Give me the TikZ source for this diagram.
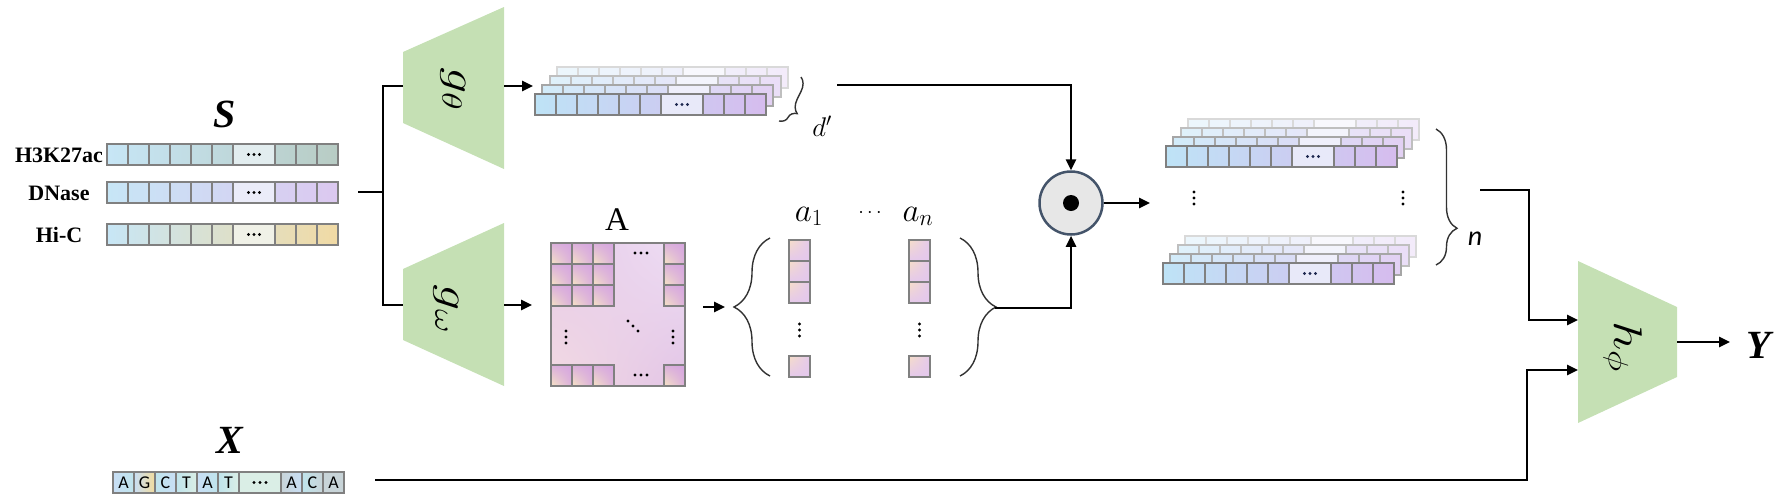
\RequirePackage{fix-cm}
\documentclass[tikz,border=0pt]{standalone}
\usepackage{fontspec}
\setmainfont{Liberation Serif}
\newfontfamily\calibri{Carlito}
\usetikzlibrary{arrows.meta, calc, shadings, decorations.pathreplacing, positioning}
\definecolor{trapgreen}{RGB}{197,224,180}
\definecolor{circborder}{RGB}{68,84,106}
\definecolor{circfill}{RGB}{231,231,231}
\definecolor{cellline}{RGB}{128,128,128}
\definecolor{bracecol}{RGB}{50,50,50}
\definecolor{rowblue}{RGB}{199,230,246}
\definecolor{h3kend}{RGB}{184,204,196}
\definecolor{dnaseend}{RGB}{220,200,240}
\definecolor{hicend}{RGB}{241,218,164}
\definecolor{embA}{RGB}{190,227,246}
\definecolor{embB}{RGB}{214,188,238}
\definecolor{dotnavy}{RGB}{30,40,80}
\definecolor{matpeach}{RGB}{246,228,196}
\definecolor{matpurple}{RGB}{214,166,224}
\definecolor{vecpeach}{RGB}{246,222,200}
\definecolor{veclav}{RGB}{228,200,236}
\definecolor{seqblue}{RGB}{200,222,245}
\definecolor{seqcyan}{RGB}{191,228,236}
\definecolor{seqyellow}{RGB}{242,220,156}
\definecolor{seqgray}{RGB}{200,212,216}
\definecolor{seqpale}{RGB}{218,238,230}
\definecolor{matA}{RGB}{243,219,226}
\definecolor{matB}{RGB}{238,222,244}
\definecolor{matC}{RGB}{230,201,232}
\definecolor{matD}{RGB}{226,196,230}

% one row of cells: x, y, left colour, right colour, fade, dot colour
\newcommand{\cellbar}[6]{%
  \foreach \ca/\cb in {0/21,21/42,42/63,63/84,84/105,105/126,168/189,189/210,210/231} {
    \pgfmathtruncatemacro\pa{100-\ca/2.31}
    \pgfmathtruncatemacro\pb{100-\cb/2.31}
    \draw[draw=cellline!#5!white, line width=1.1pt, left color=#3!\pa!#4!#5!white, right color=#3!\pb!#4!#5!white]
      (#1+\ca,#2) rectangle (#1+\cb,#2+21);
  }
  \draw[draw=cellline!#5!white, line width=1.1pt, fill=#3!45!#4!45!white!#5!white] (#1+126,#2) rectangle (#1+168,#2+21);
  \foreach \k in {-1,0,1} \fill[#6!#5!white] (#1+147+5.5*\k,#2+10.5) circle (1.6);
}
% four stacked embedding rows
\newcommand{\cellstack}[2]{%
  \cellbar{#1+22}{#2-27}{embA}{embB}{30}{dotnavy}
  \cellbar{#1+15}{#2-18}{embA}{embB}{50}{dotnavy}
  \cellbar{#1+7}{#2-9}{embA}{embB}{70}{dotnavy}
  \cellbar{#1}{#2}{embA}{embB}{100}{dotnavy}}
\newcommand{\threedots}[4]{\foreach \k in {-1,0,1} \fill (#1+\k*#3,#2+\k*#4) circle (1.7);}

\begin{document}
\begin{tikzpicture}[x=1pt, y=-1pt,
    >={Triangle[length=11pt, width=10pt]},
    link/.style={line width=2.5pt},
    curly/.style={decorate, decoration={brace, amplitude=#1}, line width=1.4pt, draw=bracecol},
    rowlabel/.style={font=\fontsize{22}{24}\selectfont\bfseries, inner sep=0pt},
    biglabel/.style={font=\fontsize{40}{44}\selectfont\bfseries\itshape, inner sep=0pt, anchor=base},
    netlabel/.style={rotate=-90, font=\fontsize{40}{44}\selectfont, inner sep=0pt},
    mathlabel/.style={font=\fontsize{33}{36}\selectfont, inner sep=0pt, anchor=base},
    acell/.style={draw=cellline, line width=1.1pt, lower left=matpeach, upper right=matpurple,
      upper left=matpurple!85!matpeach, lower right=matpurple!85!matpeach},
    vcell/.style={draw=cellline, line width=1.1pt, upper left=vecpeach, lower right=veclav,
      upper right=veclav, lower left=veclav},
    seqletter/.style={font=\calibri\fontsize{18}{20}\selectfont, inner sep=0pt}]
  \useasboundingbox (0,0) rectangle (1777,499);

  % input tracks
  \node[biglabel] (slabel) at (225,127) {S};
  \node[rowlabel] (h3k) at (59,155) {H3K27ac};
  \node[rowlabel] (dnase) at (59,193) {DNase};
  \node[rowlabel] (hic) at (59,235) {Hi-C};
  \cellbar{107}{144}{rowblue}{h3kend}{100}{black}
  \cellbar{107}{182}{rowblue}{dnaseend}{100}{black}
  \cellbar{107}{224}{rowblue}{hicend}{100}{black}

  % sequence
  \node[biglabel] (xlabel) at (230,453) {X};
  \foreach \ca/\seqch/\cl/\cr in {0/A/seqblue/seqcyan, 21/G/seqblue/seqyellow, 42/C/seqcyan/seqblue,
      63/T/seqcyan/seqpale, 84/A/seqblue/seqcyan, 105/T/seqcyan/seqpale,
      168/A/seqgray/seqblue, 189/C/seqcyan/seqgray, 210/A/seqgray/seqgray} {
    \draw[draw=cellline, line width=1.1pt, left color=\cl, right color=\cr] (113+\ca,472) rectangle ++(21,21);
    \node[seqletter] (seq-\ca) at (113+\ca+10.5,482.5) {\seqch};
  }
  \draw[draw=cellline, line width=1.1pt, fill=seqpale] (239,472) rectangle (281,493);
  \threedots{260}{482.5}{6}{0}

  % encoders and decoder
  \fill[trapgreen] (403,52) -- (504,7) -- (504,169) -- (403,123) -- cycle;
  \node[netlabel] (gtheta) at (453,89) {\scalebox{1.3}[1]{$g_\theta$}};
  \fill[trapgreen] (403,269) -- (504,223) -- (504,386) -- (403,340) -- cycle;
  \node[netlabel] (gomega) at (446,309) {\scalebox{1.3}[1]{$g_\omega$}};
  \fill[trapgreen] (1578,261) -- (1677,307) -- (1677,377) -- (1578,423) -- cycle;
  \node[netlabel] (hphi) at (1623,347) {\scalebox{1.3}[1]{$h_\phi$}};

  % node embeddings
  \cellstack{535}{94}
  \draw[curly=13pt, decoration={aspect=0.7}] (801,77) -- (779,121);
  \node[mathlabel, font=\fontsize{27}{30}\selectfont] (dprime) at (822,136) {$d'$};

  % matrix A
  \node[inner sep=0pt, anchor=base, font=\fontsize{33}{36}\selectfont] (alabel) at (617,230) {A};
  \draw[draw=cellline, line width=1.1pt, lower left=matA, upper right=matB, upper left=matC,
    lower right=matD] (551,243) rectangle (685,386);
  \foreach \r in {0,1,2} {
    \foreach \c in {0,1,2} \draw[acell] (551+21*\c,243+21*\r) rectangle ++(21,21);
    \draw[acell] (664,243+21*\r) rectangle ++(21,21);
    \draw[acell] (551+21*\r,365) rectangle ++(21,21);
  }
  \draw[acell] (664,365) rectangle ++(21,21);
  \threedots{641}{253}{6}{0}
  \threedots{641}{375}{6}{0}
  \threedots{566}{337}{0}{6}
  \threedots{673}{337}{0}{6}
  \threedots{633}{326}{5}{5}

  % columns a_1 ... a_n
  \node[mathlabel] (a1) at (809,221) {$a_1$};
  \node[inner sep=0pt, font=\fontsize{20}{22}\selectfont] (adots) at (870,213) {$\cdots$};
  \node[mathlabel] (an) at (918,221) {$a_n$};
  \foreach \x in {789,909} {
    \foreach \r in {0,1,2} \draw[vcell] (\x,240+21*\r) rectangle ++(21,21);
    \draw[vcell] (\x,356) rectangle ++(21,21);
    \threedots{\x+10.5}{330}{0}{6}
  }
  \draw[curly=36pt] (770,376) -- (770,238);
  \draw[curly=36pt] (960,238) -- (960,376);

  % product
  \node[circle, draw=circborder, fill=circfill, line width=2.5pt, minimum size=63pt, inner sep=0pt] (dot) at (1071,203) {};
  \fill (dot.center) circle (8);

  % n outputs
  \cellstack{1166}{146}
  \cellstack{1163}{263}
  \threedots{1194}{198}{0}{6}
  \threedots{1403}{198}{0}{6}
  \draw[curly=21pt, decoration={aspect=0.73}] (1436,129) -- (1436,265);
  \node[inner sep=0pt, anchor=base, font=\calibri\itshape\fontsize{28}{32}\selectfont] (nlabel) at (1475,245) {n};

  \node[biglabel] (ylabel) at (1759,358) {Y};

  % connectors
  \coordinate (s-out) at (358,192);
  \coordinate (split) at (383,192);
  \coordinate (gt-in) at (403,86);
  \coordinate (gt-out) at (504,86);
  \coordinate (emb-in) at (533,86);
  \coordinate (gw-in) at (403,305);
  \coordinate (gw-out) at (504,305);
  \coordinate (mat-in) at (532,305);
  \coordinate (mat-out) at (703,307);
  \coordinate (cols-in) at (725,307);
  \coordinate (cols-out) at (995,308);
  \coordinate (dp-out) at (837,85);
  \coordinate (dot-out) at (1150,203);
  \coordinate (n-out) at (1480,190);
  \coordinate (x-out) at (375,480);
  \coordinate (hp-in1) at (1578,320);
  \coordinate (hp-in2) at (1578,370);
  \coordinate (hp-out) at (1677,342);
  \coordinate (y-in) at (1730,342);

  \draw[link] (s-out) -- (split);
  \draw[link] (gt-in) -| (split) |- (gw-in);
  \draw[link, ->] (gt-out) -- (emb-in);
  \draw[link, ->] (gw-out) -- (mat-in);
  \draw[link, ->] (mat-out) -- (cols-in);
  \draw[link, ->] (cols-out) -| (dot.south);
  \draw[link, ->] (dp-out) -| (dot.north);
  \draw[link, ->] (dot.east) -- (dot-out);
  \draw[link, ->] (n-out) -- ++(49,0) |- (hp-in1);
  \draw[link, ->] (x-out) -- ++(1152,0) |- (hp-in2);
  \draw[link, ->] (hp-out) -- (y-in);
\end{tikzpicture}
\end{document}
